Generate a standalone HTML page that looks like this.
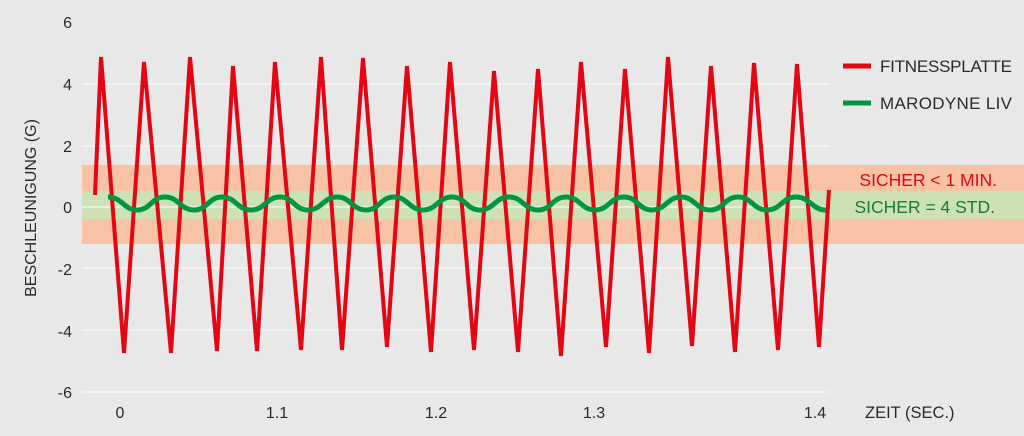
<!DOCTYPE html>
<html><head><meta charset="utf-8"><style>
html,body{margin:0;padding:0;background:#e8e8e8;}
svg{display:block;font-family:"Liberation Sans",sans-serif;}
</style></head><body>
<svg width="1024" height="436" viewBox="0 0 1024 436" xmlns="http://www.w3.org/2000/svg">
<rect width="1024" height="436" fill="#e8e8e8"/>
<rect x="82" y="165" width="942" height="79" fill="#f8c2a4"/>
<rect x="82" y="191" width="942" height="28" fill="#cde1b5"/>
<g stroke="#f6f6f6" stroke-width="1.2">
<line x1="82" y1="84" x2="828" y2="84"/>
<line x1="82" y1="146" x2="828" y2="146"/>
<line x1="82" y1="207" x2="828" y2="207"/>
<line x1="82" y1="268" x2="828" y2="268"/>
<line x1="82" y1="330" x2="828" y2="330"/>
<line x1="82" y1="392" x2="828" y2="392"/>
</g>
<g fill="#2a2a2a" font-size="16" text-anchor="end">
<text x="72" y="28">6</text>
<text x="72" y="90">4</text>
<text x="72" y="152">2</text>
<text x="72" y="213">0</text>
<text x="72" y="275">-2</text>
<text x="72" y="337">-4</text>
<text x="72" y="398">-6</text>
</g>
<g fill="#2a2a2a" font-size="16" text-anchor="middle">
<text x="120" y="418">0</text>
<text x="277" y="418">1.1</text>
<text x="436" y="418">1.2</text>
<text x="594" y="418">1.3</text>
<text x="815" y="418">1.4</text>
</g>
<text x="865" y="418" fill="#2a2a2a" font-size="16.5">ZEIT (SEC.)</text>
<text transform="translate(36,208) rotate(-90)" fill="#2a2a2a" font-size="16" text-anchor="middle">BESCHLEUNIGUNG (G)</text>
<polyline fill="none" stroke="#e30613" stroke-width="4" stroke-linejoin="miter" points="95,195 101,57 124,353 144,62 171,353 190,57 217,351 233,66 257,351 275,62 301,350 321,57 342,350 363,58 387,347 407,66 431,352 450,62 474,350 494,71 518,352 538,69 561,356 581,62 606,347 625,69 649,353 668,57 692,346 711,66 735,352 754,63 778,350 797,64 819,347 829,190"/>
<path fill="none" stroke="#009640" stroke-width="5" d="M108,197 C122,197 124,210 137,210 C151,210 151,197 165,197 C179,197 180,210 194,210 C208,210 208,197 222,197 C236,197 237,210 251,210 C265,210 266,197 280,197 C294,197 294,210 308,210 C322,210 323,197 337,197 C351,197 352,210 366,210 C380,210 380,197 394,197 C408,197 409,210 423,210 C437,210 438,197 452,197 C466,197 466,210 480,210 C494,210 495,197 509,197 C523,197 524,210 538,210 C552,210 552,197 566,197 C580,197 581,210 595,210 C609,210 610,197 624,197 C638,197 638,210 652,210 C666,210 667,197 681,197 C695,197 696,210 710,210 C724,210 724,197 738,197 C752,197 753,210 767,210 C781,210 782,197 796,197 C810,197 812,210 826,210"/>
<line x1="843" y1="66" x2="871" y2="66" stroke="#e30613" stroke-width="5"/>
<text x="880" y="72" fill="#2a2a2a" font-size="17" textLength="132">FITNESSPLATTE</text>
<line x1="843" y1="103" x2="871" y2="103" stroke="#009640" stroke-width="5"/>
<text x="880" y="109" fill="#2a2a2a" font-size="17" textLength="132">MARODYNE LIV</text>
<text x="997" y="186" fill="#e30613" font-size="17.5" text-anchor="end">SICHER &lt; 1 MIN.</text>
<text x="995" y="213" fill="#1a7a3a" font-size="17.5" text-anchor="end">SICHER = 4 STD.</text>
</svg>
</body></html>
